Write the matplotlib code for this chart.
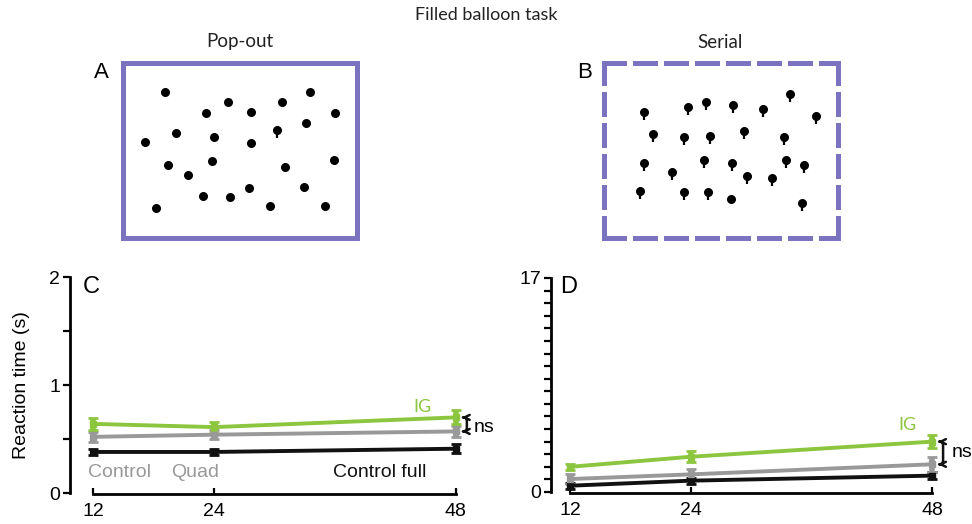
import numpy as np
import matplotlib.pyplot as plt
from matplotlib.ticker import FixedLocator

set_sizes = [12, 24, 48]

# pop-out condition (C)
pop_ig = [0.64, 0.61, 0.70]
pop_ig_err = [0.055, 0.05, 0.065]
pop_control = [0.52, 0.54, 0.57]
pop_control_err = [0.045, 0.04, 0.05]
pop_full = [0.38, 0.38, 0.41]
pop_full_err = [0.03, 0.03, 0.04]

# serial condition (D)
ser_ig = [2.0, 2.8, 4.0]
ser_ig_err = [0.25, 0.45, 0.5]
ser_control = [1.03, 1.4, 2.2]
ser_control_err = [0.4, 0.45, 0.6]
ser_full = [0.5, 0.9, 1.3]
ser_full_err = [0.25, 0.25, 0.3]

# balloon positions in the two displays (box units: 700 x 525)
popout_x = [127, 315, 249, 383, 476, 560, 634, 546, 462, 158, 273, 382, 65,
            136, 267, 193, 485, 630, 239, 319, 377, 440, 541, 605, 100]
popout_y = [437, 407, 375, 377, 407, 439, 375, 346, 325, 314, 304, 284, 289,
            219, 231, 190, 212, 235, 126, 122, 151, 96, 154, 96, 91]
popout_string = [False] * 25
popout_string[8] = True

serial_x = [120, 252, 305, 387, 475, 557, 634, 148, 239, 317, 420, 537, 121,
            203, 299, 383, 427, 503, 543, 597, 108, 239, 312, 381, 592]
serial_y = [377, 393, 407, 398, 388, 431, 366, 312, 302, 307, 322, 302, 225,
            197, 234, 225, 187, 180, 234, 219, 142, 137, 137, 116, 105]
serial_string = [True] * 25
serial_string[23] = False

GREEN = '#8cc63e'
GREY = '#999999'
BLACK = '#111111'
PURPLE = '#7b72c0'
ARIAL = 'Liberation Sans'
MYRIAD = 'Lato'

plt.rcParams['font.family'] = ARIAL

fig = plt.figure(figsize=(9.72, 5.24), dpi=100)
W, H = 972.0, 524.0


def px_axes(x0, y0, x1, y1):
    return fig.add_axes([x0 / W, 1 - y1 / H, (x1 - x0) / W, (y1 - y0) / H])


def display_box(ax, xs, ys, strings, dashed):
    ax.set_xlim(0, 700)
    ax.set_ylim(0, 525)
    ax.set_xticks([])
    ax.set_yticks([])
    for sp in ax.spines.values():
        sp.set_color(PURPLE)
        sp.set_linewidth(3.6)
        if dashed:
            sp.set_linestyle((0, (4, 2.2)))
    xs = np.array(xs)
    ys = np.array(ys)
    st = np.array(strings)
    ax.vlines(xs[st], ys[st] - 24, ys[st] - 6, color='black', lw=1.6)
    ax.scatter(xs, ys, s=30, color='black', zorder=3)


ax_a = px_axes(123, 63, 357, 238)
display_box(ax_a, popout_x, popout_y, popout_string, False)
ax_b = px_axes(604, 63, 838, 238)
display_box(ax_b, serial_x, serial_y, serial_string, True)

fig.text(486 / W, 1 - 15 / H, 'Filled balloon task', ha='center', va='center',
         fontsize=13, family=MYRIAD, color='#222222')
fig.text(240 / W, 1 - 42 / H, 'Pop-out', ha='center', va='center',
         fontsize=13.5, family=MYRIAD, color='#222222')
fig.text(720 / W, 1 - 42 / H, 'Serial', ha='center', va='center',
         fontsize=13.5, family=MYRIAD, color='#222222')
fig.text(94 / W, 1 - 73 / H, 'A', ha='left', va='center', fontsize=16)
fig.text(577 / W, 1 - 73 / H, 'B', ha='left', va='center', fontsize=16)


def rt_axes(ax, ymax, xlim):
    ax.set_xlim(*xlim)
    ax.set_ylim(0, ymax)
    for side in ('top', 'right'):
        ax.spines[side].set_visible(False)
    ax.spines['left'].set_bounds(0, ymax)
    ax.spines['bottom'].set_bounds(12, 48)
    ax.spines['bottom'].set_position(('outward', 1))
    for side in ('left', 'bottom'):
        ax.spines[side].set_linewidth(2.0)
    ax.set_xticks(set_sizes)
    ax.tick_params(axis='x', direction='in', length=4, width=1.6,
                   labelsize=14, pad=6)
    ax.tick_params(axis='y', which='both', direction='out', length=5,
                   width=1.6, labelsize=14, pad=2)


def series(ax, vals, errs, color):
    ax.errorbar(set_sizes, vals, yerr=errs, color=color, lw=2.8,
                marker='s', ms=5, elinewidth=4, capsize=3.5, capthick=2,
                zorder=3, clip_on=False)


def ns_bracket(ax, top, bottom, x_text, y_text):
    # curved double arrow linking IG and control at the largest set size
    ax.annotate('', xy=(48.6, bottom), xytext=(48.6, top),
                arrowprops=dict(arrowstyle='<->', lw=1.8, color=BLACK,
                                mutation_scale=9, shrinkA=0, shrinkB=0,
                                connectionstyle='arc,angleA=0,angleB=0,'
                                                'armA=5,armB=5,rad=4'),
                annotation_clip=False)
    ax.text(x_text, y_text, 'ns', ha='left', va='center', fontsize=14,
            clip_on=False)


# C: pop-out reaction times
ax_c = px_axes(70, 277, 480, 493)
rt_axes(ax_c, 2, (9.72, 50.4))
ax_c.set_yticks([0, 1, 2])
ax_c.yaxis.set_minor_locator(FixedLocator([0.5, 1.5]))
series(ax_c, pop_full, pop_full_err, BLACK)
series(ax_c, pop_control, pop_control_err, GREY)
series(ax_c, pop_ig, pop_ig_err, GREEN)
ax_c.set_ylabel('Reaction time (s)', fontsize=14)
ax_c.yaxis.set_label_coords(-0.098, 0.5)
ax_c.text(0.03, 0.955, 'C', transform=ax_c.transAxes, fontsize=17,
          ha='left', va='center')
ax_c.text(44.7, 0.80, 'IG', color=GREEN, fontsize=13, family=MYRIAD,
          ha='center', va='center')
ax_c.text(11.5, 0.19, 'Control', color=GREY, fontsize=14, ha='left',
          va='center')
ax_c.text(19.8, 0.19, 'Quad', color=GREY, fontsize=14, ha='left',
          va='center')
ax_c.text(35.8, 0.19, 'Control full', color=BLACK, fontsize=14, ha='left',
          va='center')
ns_bracket(ax_c, pop_ig[2], pop_control[2], 49.8, 0.605)

# D: serial reaction times
ax_d = px_axes(551, 278, 960, 492)
rt_axes(ax_d, 17, (10.11, 50.78))
ax_d.set_yticks([0, 17])
ax_d.yaxis.set_minor_locator(FixedLocator(list(range(1, 17))))
series(ax_d, ser_full, ser_full_err, BLACK)
series(ax_d, ser_control, ser_control_err, GREY)
series(ax_d, ser_ig, ser_ig_err, GREEN)
ax_d.text(0.022, 0.958, 'D', transform=ax_d.transAxes, fontsize=17,
          ha='left', va='center')
ax_d.text(45.6, 5.3, 'IG', color=GREEN, fontsize=13, family=MYRIAD,
          ha='center', va='center')
ns_bracket(ax_d, ser_ig[2], ser_control[2], 50.0, 3.1)

fig.savefig('out.png', dpi=100)
